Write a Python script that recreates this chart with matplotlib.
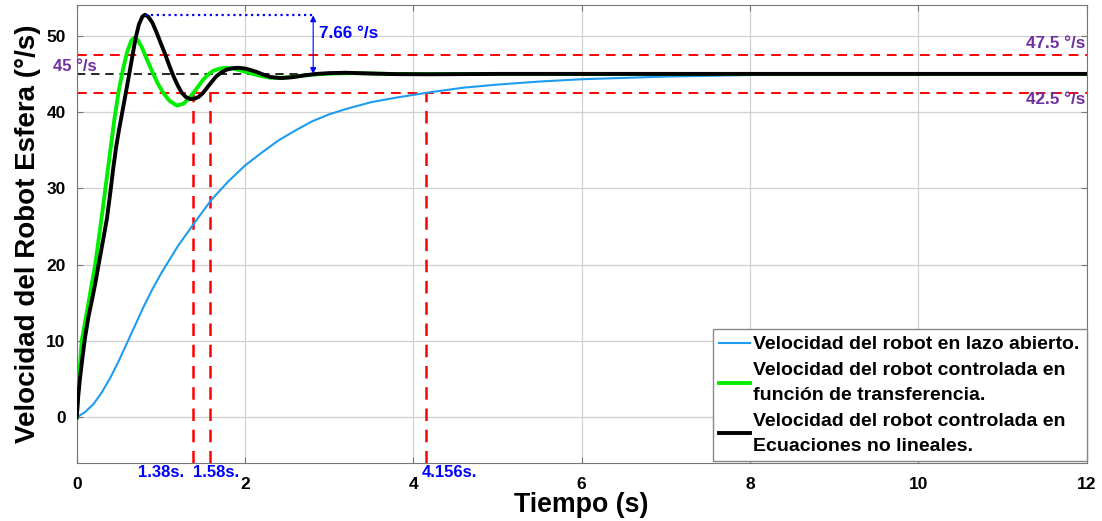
import matplotlib
matplotlib.use("Agg")
import matplotlib.pyplot as plt

plt.rcParams['font.family'] = ['Liberation Sans', 'DejaVu Sans']
plt.rcParams['font.weight'] = 'bold'

# Open-loop response
blue_t = [0, 0.1, 0.2, 0.3, 0.4, 0.5, 0.6, 0.7, 0.8, 0.9, 1.0, 1.2, 1.4, 1.6, 1.8, 2.0, 2.2,
          2.4, 2.6, 2.8, 3.0, 3.2, 3.5, 3.8, 4.2, 4.6, 5.0, 5.5, 6, 7, 8, 9, 10, 11, 12]
blue_v = [0, 0.7, 1.75, 3.3, 5.2, 7.4, 9.8, 12.2, 14.6, 16.8, 18.8, 22.4, 25.5, 28.5, 30.9, 33.0, 34.7,
          36.3, 37.6, 38.8, 39.7, 40.4, 41.3, 41.9, 42.6, 43.2, 43.6, 44.0, 44.3, 44.65, 44.85, 44.93, 44.97, 44.99, 45.0]

# Controlled (transfer function)
green_t = [0, 0.03, 0.06, 0.14, 0.22, 0.3, 0.4, 0.45, 0.5, 0.55, 0.6, 0.65, 0.68, 0.72, 0.77, 0.83,
           0.91, 0.97, 1.03, 1.1, 1.19, 1.27, 1.35, 1.42, 1.5, 1.56, 1.62, 1.7, 1.78, 1.88, 1.98,
           2.06, 2.18, 2.3, 2.45, 2.6, 2.8, 3.0, 3.3, 3.7, 4.2, 5, 12]
green_v = [0, 5.5, 10, 15, 20, 26.5, 35, 39.2, 42.8, 45.6, 47.9, 49.4, 49.7, 49.5, 48.6, 47.0,
           45.0, 43.6, 42.5, 41.5, 40.85, 41.1, 42.0, 43.0, 44.2, 44.9, 45.4, 45.7, 45.8, 45.65, 45.35,
           45.1, 44.75, 44.5, 44.5, 44.65, 44.9, 45.05, 45.1, 45.0, 44.98, 45.0, 45.0]

# Controlled (nonlinear equations)
black_t = [0, 0.02, 0.04, 0.07, 0.1, 0.14, 0.18, 0.22, 0.26, 0.31, 0.36, 0.4, 0.435, 0.47, 0.5,
           0.55, 0.6, 0.65, 0.7, 0.74, 0.78, 0.81, 0.85, 0.9, 0.95, 1.0, 1.05, 1.1, 1.15, 1.2,
           1.25, 1.3, 1.35, 1.4, 1.45, 1.5, 1.55, 1.6, 1.66, 1.72, 1.78, 1.85, 1.92, 2.0, 2.07,
           2.14, 2.22, 2.3, 2.42, 2.55, 2.7, 2.85, 3.0, 3.2, 3.5, 3.8, 4.2, 5, 6, 8, 12]
black_v = [0, 3.0, 5.2, 8.0, 10.5, 13.2, 15.3, 17.5, 20.0, 23.0, 26.1, 29.5, 32.7, 35.5, 37.5,
           40.5, 43.5, 46.6, 49.7, 51.5, 52.5, 52.75, 52.5, 51.7, 50.4, 49.0, 47.6, 46.1, 44.7, 43.5,
           42.5, 41.95, 41.7, 41.75, 42.0, 42.5, 43.2, 43.9, 44.7, 45.2, 45.55, 45.75, 45.8, 45.7, 45.5,
           45.25, 44.9, 44.6, 44.45, 44.55, 44.8, 45.0, 45.1, 45.15, 45.05, 44.97, 44.95, 45.0, 45.0, 45.0, 45.0]

labels = ["Velocidad del robot en lazo abierto.",
          "Velocidad del robot controlada en\nfunción de transferencia.",
          "Velocidad del robot controlada en\nEcuaciones no lineales."]

ref_value = 45
band = [42.5, 47.5]
settle_times = [1.38, 1.58, 4.156]
settle_labels = ["1.38s.", "1.58s.", "4.156s."]
peak_t, peak_v = 0.81, 52.66
overshoot_label = "7.66 °/s"
x_ticks = [0, 2, 4, 6, 8, 10, 12]
y_ticks = [0, 10, 20, 30, 40, 50]

purple = '#7030A0'

fig = plt.figure(figsize=(11.02, 5.21), dpi=100)
ax = fig.add_axes([0.0696, 0.111, 0.9164, 0.879])
ax.set_xlim(0, 12)
ax.set_ylim(-6, 54)
ax.set_xticks(x_ticks)
ax.set_yticks(y_ticks)
ax.grid(True, color='#d0d0d0', lw=0.9)
ax.set_axisbelow(True)
for s in ax.spines.values():
    s.set_color('#777777')
ax.tick_params(direction='in', top=True, right=True, length=4, color='#777777',
               labelsize=12.5, pad=8, labelcolor='black')
ax.tick_params(axis='x', pad=10)

# reference lines
ax.axhline(band[1], color='red', ls=(0, (5, 3.5)), lw=1.4, zorder=2)
ax.axhline(band[0], color='red', ls=(0, (5, 3.5)), lw=1.4, zorder=2)
ax.axhline(ref_value, color='black', ls=(0, (5, 3.5)), lw=1.2, zorder=2)
for t in settle_times:
    ax.plot([t, t], [-6, band[0]], color='red', ls=(0, (5, 3.5)), lw=1.8, zorder=2)

l1, = ax.plot(blue_t, blue_v, color='#1E9CF0', lw=1.5, zorder=3)
l2, = ax.plot(green_t, green_v, color='#00EE00', lw=2.8, zorder=4)
l3, = ax.plot(black_t, black_v, color='black', lw=2.8, zorder=5)

# overshoot annotation
ax.plot([peak_t, 2.81], [peak_v, peak_v], color='blue', ls=':', lw=1.6, zorder=6)
ax.annotate('', xy=(2.81, peak_v), xytext=(2.81, ref_value),
            arrowprops=dict(arrowstyle='<|-|>', color='blue', lw=0.8,
                            mutation_scale=9, shrinkA=0, shrinkB=0), zorder=6)
ax.text(2.88, 50.3, overshoot_label, color='blue', fontsize=12.3, fontweight='bold',
        ha='left', va='center')

# level labels
ax.text(-0.28, 46.0, "45 °/s", color=purple, fontsize=12, fontweight='bold',
        ha='left', va='center', clip_on=False)
ax.text(11.98, 49.0, "47.5 °/s", color=purple, fontsize=12.3, fontweight='bold',
        ha='right', va='center')
ax.text(11.98, 41.6, "42.5 °/s", color=purple, fontsize=12.3, fontweight='bold',
        ha='right', va='center')

# settling time labels
ax.text(1.28, -7.2, settle_labels[0], color='blue', fontsize=12, fontweight='bold',
        ha='right', va='center', clip_on=False)
ax.text(1.385, -7.2, settle_labels[1], color='blue', fontsize=12, fontweight='bold',
        ha='left', va='center', clip_on=False)
ax.text(4.10, -7.2, settle_labels[2], color='blue', fontsize=12, fontweight='bold',
        ha='left', va='center', clip_on=False)

ax.set_xlabel("Tiempo (s)", fontsize=19.3, fontweight='bold', labelpad=0)
ax.set_ylabel("Velocidad del Robot Esfera (°/s)", fontsize=20, fontweight='bold', labelpad=4)

leg = ax.legend([l1, l2, l3], labels, loc='lower right', borderaxespad=0, fontsize=14,
                handlelength=1.6, handletextpad=0.15, labelspacing=0.45, borderpad=0.35,
                fancybox=False, framealpha=1, edgecolor='#888888',
                bbox_to_anchor=(1.0, 0.004))
leg.get_frame().set_linewidth(1.0)
for txt in leg.get_texts():
    txt.set_fontweight('bold')
    txt.set_linespacing(1.6)

fig.savefig('out.png', dpi=100)
